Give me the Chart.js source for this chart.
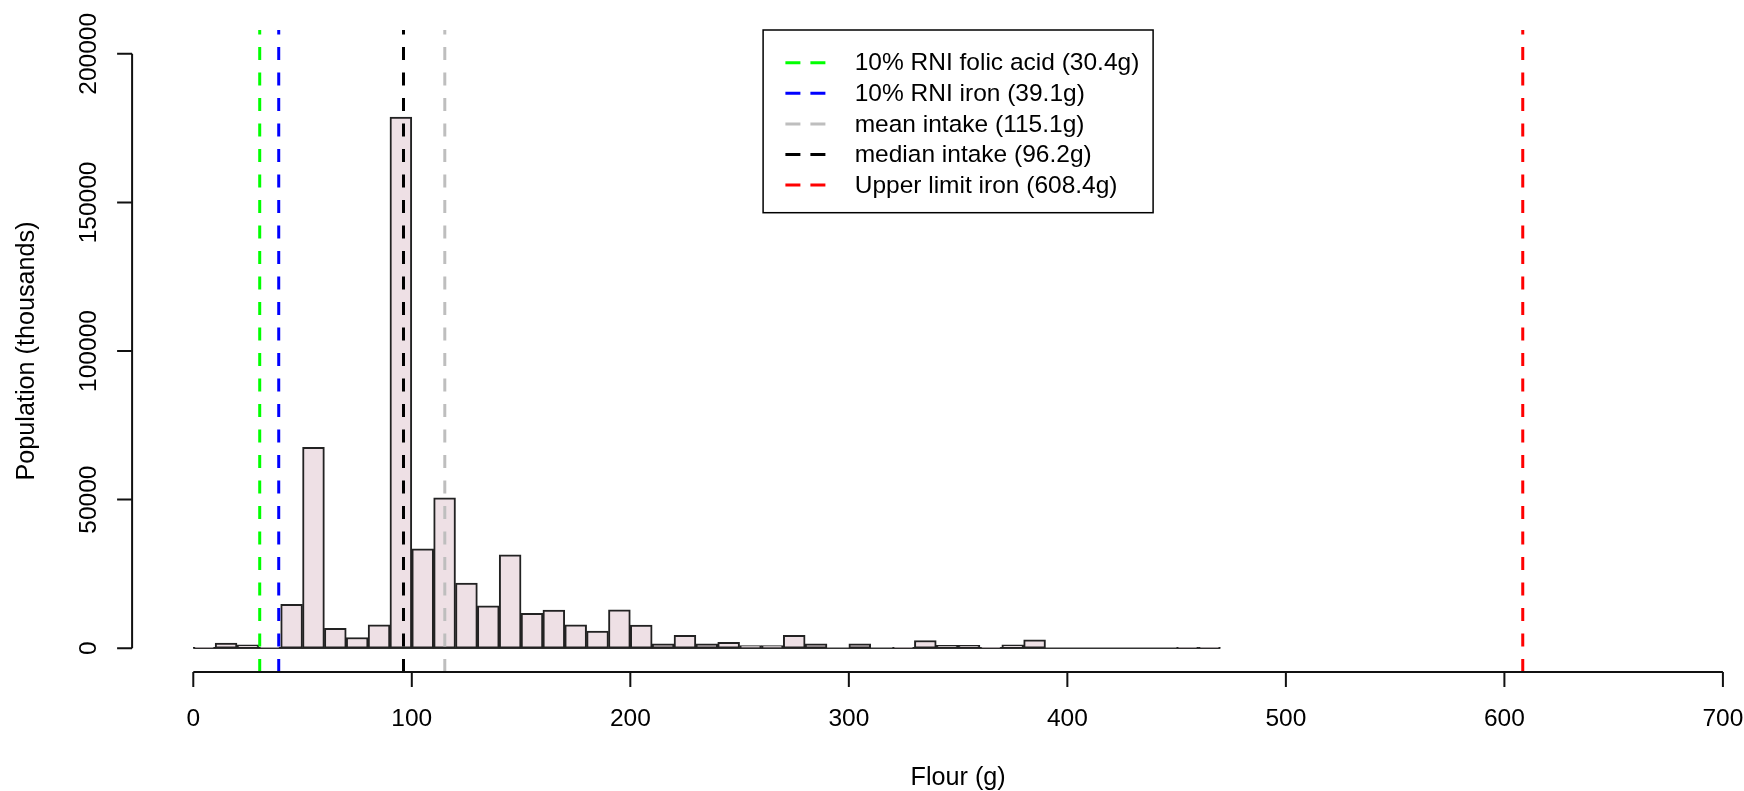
<!DOCTYPE html>
<html>
<head>
<meta charset="utf-8">
<title>Flour intake histogram</title>
<script src="https://cdn.jsdelivr.net/npm/chart.js@4/dist/chart.umd.min.js"></script>
<style>
  html, body { margin: 0; padding: 0; background: #fff; }
  canvas { display: block; }
</style>
</head>
<body>
<canvas id="myChart" width="1744" height="791"></canvas>
<script>
// histogram bins: 10 g wide, starting at 0 g (population in thousands)
const binStart = 0;
const binWidth = 10;
const binCounts = [
    300, 1700, 1100, 300, 14800, 67600, 6700, 3600, 7900, 178700,
    33400, 50600, 21900, 14300, 31400, 11700, 12800, 7900, 5800, 12900,
    7800, 1500, 4300, 1500, 2000, 900, 900, 4300, 1500, 0,
    1500, 0, 300, 2600, 1000, 1000, 300, 1100, 2800, 0,
    0, 0, 0, 0, 0, 300, 300
];

// reference lines
const refLabels = [
    '10% RNI folic acid (30.4g)',
    '10% RNI iron (39.1g)',
    'mean intake (115.1g)',
    'median intake (96.2g)',
    'Upper limit iron (608.4g)'
];
const refValues = [30.4, 39.1, 115.1, 96.2, 608.4];
const refColors = ['#00ff00', '#0000ff', '#bebebe', '#000000', '#ff0000'];

// axes
const xTicks = [0, 100, 200, 300, 400, 500, 600, 700];
const yTicks = [0, 50000, 100000, 150000, 200000];
const xTitle = 'Flour (g)';
const yTitle = 'Population (thousands)';

const FONT = '24.5px "Liberation Sans", Arial, sans-serif';
const TITLE_FONT = '25.2px "Liberation Sans", Arial, sans-serif';
const xMin = -28, xMax = 709.65;
const yMin = -8000, yMax = 208000;

// R style axes, titles and legend
const rDecorations = {
    id: 'rDecorations',
    afterDraw(chart) {
        const { ctx, chartArea } = chart;
        const x = chart.scales.x;
        const y = chart.scales.y;
        ctx.save();
        ctx.strokeStyle = '#111';
        ctx.fillStyle = '#000';
        ctx.lineWidth = 2;
        ctx.font = FONT;

        // x axis
        const xb = chartArea.bottom;
        ctx.beginPath();
        ctx.moveTo(x.getPixelForValue(xTicks[0]), xb);
        ctx.lineTo(x.getPixelForValue(xTicks[xTicks.length - 1]), xb);
        xTicks.forEach(t => {
            const px = x.getPixelForValue(t);
            ctx.moveTo(px, xb);
            ctx.lineTo(px, xb + 15);
        });
        ctx.stroke();
        ctx.textAlign = 'center';
        ctx.textBaseline = 'alphabetic';
        xTicks.forEach(t => ctx.fillText(String(t), x.getPixelForValue(t), 726));

        // y axis
        const yl = chartArea.left;
        ctx.beginPath();
        ctx.moveTo(yl, y.getPixelForValue(yTicks[0]));
        ctx.lineTo(yl, y.getPixelForValue(yTicks[yTicks.length - 1]));
        yTicks.forEach(t => {
            const py = y.getPixelForValue(t);
            ctx.moveTo(yl, py);
            ctx.lineTo(yl - 15, py);
        });
        ctx.stroke();
        yTicks.forEach(t => {
            ctx.save();
            ctx.translate(96, y.getPixelForValue(t));
            ctx.rotate(-Math.PI / 2);
            ctx.fillText(String(t), 0, 0);
            ctx.restore();
        });

        // titles
        ctx.font = TITLE_FONT;
        const midX = x.getPixelForValue((xMin + 728) / 2);
        ctx.fillText(xTitle, midX, 785);
        ctx.save();
        ctx.translate(34, (chartArea.top + chartArea.bottom) / 2);
        ctx.rotate(-Math.PI / 2);
        ctx.fillText(yTitle, 0, 0);
        ctx.restore();

        // legend ("top")
        ctx.font = FONT;
        const boxW = 390, boxH = 182.7;
        const left = midX - boxW / 2;
        const top = chartArea.top;
        ctx.fillStyle = '#fff';
        ctx.fillRect(left, top, boxW, boxH);
        ctx.lineWidth = 1.5;
        ctx.strokeStyle = '#000';
        ctx.strokeRect(left, top, boxW, boxH);
        ctx.textAlign = 'left';
        ctx.textBaseline = 'middle';
        refLabels.forEach((lab, i) => {
            const ry = top + 32.7 + i * 30.6;
            ctx.strokeStyle = refColors[i];
            ctx.lineWidth = 3;
            ctx.setLineDash([15, 10]);
            ctx.beginPath();
            ctx.moveTo(left + 22.3, ry);
            ctx.lineTo(left + 62.3, ry);
            ctx.stroke();
            ctx.setLineDash([]);
            ctx.fillStyle = '#000';
            ctx.fillText(lab, left + 91.6, ry + 1);
        });
        ctx.restore();
    }
};

const datasets = [];

// reference lines, drawn on top
refValues.forEach((v, i) => {
    datasets.push({
        type: 'line',
        label: refLabels[i],
        data: [{ x: v, y: yMin }, { x: v, y: yMax }],
        borderColor: refColors[i],
        borderWidth: 3,
        borderDash: [13, 12.5],
        pointRadius: 0,
        fill: false,
        order: 0
    });
});

// histogram bars
datasets.push({
    type: 'bar',
    label: 'Population',
    data: binCounts.map((c, i) => ({ x: binStart + binWidth * i + binWidth / 2, y: c })),
    backgroundColor: '#eee0e5',
    borderColor: '#222',
    borderWidth: 2,
    borderSkipped: false,
    barPercentage: 1,
    categoryPercentage: 1,
    order: 1
});

// zero line under the histogram
datasets.push({
    type: 'line',
    label: 'baseline',
    data: [{ x: binStart, y: 0 }, { x: binStart + binWidth * binCounts.length, y: 0 }],
    borderColor: '#333',
    borderWidth: 1.5,
    pointRadius: 0,
    fill: false,
    order: 2
});

const ctx = document.getElementById('myChart').getContext('2d');
myChart = new Chart(ctx, {
    type: 'bar',
    data: { datasets: datasets },
    options: {
        responsive: false,
        maintainAspectRatio: false,
        animation: false,
        devicePixelRatio: 1,
        layout: {
            padding: { left: 132.1, top: 30, right: 0, bottom: 119 }
        },
        plugins: {
            legend: { display: false },
            tooltip: { enabled: false },
            title: { display: false }
        },
        scales: {
            x: {
                type: 'linear',
                offset: false,
                min: xMin,
                max: xMax,
                display: false
            },
            y: {
                type: 'linear',
                min: yMin,
                max: yMax,
                display: false
            }
        }
    },
    plugins: [rDecorations]
});
</script>
</body>
</html>
